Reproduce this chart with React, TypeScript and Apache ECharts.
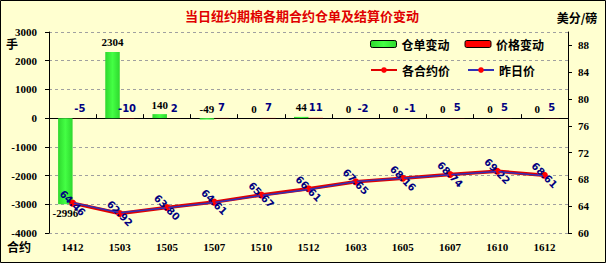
import React, { useEffect, useRef } from 'react';
import * as echarts from 'echarts';

const categories = ['1412', '1503', '1505', '1507', '1510', '1512', '1603', '1605', '1607', '1610', '1612'];
const warrantChange = [-2996, 2304, 140, -49, 0, 44, 0, 0, 0, 0, 0];
const priceChange = [-5, -10, 2, 7, 7, 11, -2, -1, 5, 5, 5];
const settlePrice = [64.46, 62.92, 63.8, 64.61, 65.67, 66.61, 67.65, 68.16, 68.74, 69.22, 68.61];
const prevPrice = [64.51, 63.02, 63.78, 64.54, 65.6, 66.5, 67.67, 68.17, 68.69, 69.17, 68.56];
const leftAxisRange = [-4000, 3000, 1000];
const rightAxisRange = [60, 90, 4];

const TITLE = '当日纽约期棉各期合约仓单及结算价变动';
const SERIF = '"Liberation Serif", "Times New Roman", serif';
const SANS = '"DejaVu Sans", Verdana, sans-serif';
const CJK = '"Noto Sans CJK SC", sans-serif';

function buildOption() {
  return {
    animation: false,
    backgroundColor: '#FFFFD0',
    grid: { left: 49, right: 38, top: 32, bottom: 30, containLabel: false },
    legend: [
      {
        left: 370,
        top: 38,
        padding: 0,
        itemWidth: 26,
        itemHeight: 7,
        itemGap: 15,
        data: ['仓单变动', '价格变动'],
        itemStyle: { borderColor: '#000', borderWidth: 1 },
        textStyle: { fontFamily: CJK, fontWeight: 'bold', fontSize: 12, color: '#000' },
      },
      {
        left: 370,
        top: 64,
        padding: 0,
        itemWidth: 26,
        itemHeight: 7,
        itemGap: 17,
        data: ['各合约价', '昨日价'],
        textStyle: { fontFamily: CJK, fontWeight: 'bold', fontSize: 12, color: '#000' },
      },
    ],
    xAxis: [
      {
        type: 'category',
        data: categories,
        position: 'bottom',
        axisLine: { show: false, onZero: false },
        axisTick: { show: false },
        splitLine: { show: false },
        axisLabel: { margin: 8, color: '#000', fontFamily: SERIF, fontWeight: 'bold', fontSize: 11, interval: 0 },
      },
      {
        type: 'category',
        data: categories,
        position: 'bottom',
        axisLine: { show: true, onZero: true, onZeroAxisIndex: 0, lineStyle: { color: '#000', width: 1 } },
        axisTick: { show: true, inside: true, length: 4, interval: 0, lineStyle: { color: '#000' } },
        axisLabel: { show: false },
        splitLine: { show: false },
      },
    ],
    yAxis: [
      {
        type: 'value',
        position: 'left',
        min: leftAxisRange[0],
        max: leftAxisRange[1],
        interval: leftAxisRange[2],
        axisLine: { show: true, onZero: false, lineStyle: { color: '#000' } },
        axisTick: { show: true, length: 4, lineStyle: { color: '#000' } },
        axisLabel: {
          margin: 12,
          color: '#000',
          fontFamily: SERIF,
          fontWeight: 'bold',
          fontSize: 11,
          formatter: (v: number) => String(v),
        },
        splitLine: { show: true, lineStyle: { color: '#A0A0A0', type: [3, 3], width: 1 } },
      },
      {
        type: 'value',
        position: 'right',
        min: rightAxisRange[0],
        max: rightAxisRange[1],
        interval: rightAxisRange[2],
        axisLine: { show: true, onZero: false, lineStyle: { color: '#000' } },
        axisTick: { show: true, length: 4, lineStyle: { color: '#000' } },
        axisLabel: {
          margin: 10,
          showMaxLabel: false,
          color: '#000',
          fontFamily: SERIF,
          fontWeight: 'bold',
          fontSize: 11,
          formatter: (v: number) => String(v),
        },
        splitLine: { show: false },
      },
    ],
    series: [
      {
        name: '仓单变动',
        type: 'bar',
        xAxisIndex: 0,
        yAxisIndex: 0,
        barWidth: 14.5,
        barGap: '0%',
        itemStyle: {
          color: new echarts.graphic.LinearGradient(0, 0, 1, 0, [
            { offset: 0, color: '#2ED82E' },
            { offset: 0.5, color: '#44FF44' },
            { offset: 1, color: '#2ED82E' },
          ]),
        },
        label: {
          show: true,
          position: 'top',
          distance: 4,
          color: '#000',
          fontFamily: SERIF,
          fontWeight: 'bold',
          fontSize: 11,
        },
        data: warrantChange.map((v) => (v < -1000 ? { value: v, label: { position: 'bottom', distance: 3 } } : v)),
      },
      {
        name: '价格变动',
        type: 'bar',
        xAxisIndex: 0,
        yAxisIndex: 0,
        barWidth: 14.5,
        barGap: '0%',
        itemStyle: { color: '#FF0000' },
        label: {
          show: true,
          position: 'top',
          distance: 5,
          color: '#000080',
          fontFamily: SANS,
          fontWeight: 'bold',
          fontSize: 10,
        },
        data: priceChange,
      },
      {
        name: '各合约价',
        type: 'line',
        xAxisIndex: 0,
        yAxisIndex: 1,
        symbol: 'circle',
        symbolSize: 7,
        itemStyle: { color: '#FF0000' },
        lineStyle: { color: '#E00000', width: 3.5 },
        label: {
          show: true,
          position: 'inside',
          rotate: -45,
          color: '#000080',
          fontFamily: SANS,
          fontWeight: 'bold',
          fontSize: 10,
          formatter: (p: any) => Number(p.value).toFixed(2),
        },
        data: settlePrice,
        z: 3,
      },
      {
        name: '昨日价',
        type: 'line',
        xAxisIndex: 0,
        yAxisIndex: 1,
        symbol: 'circle',
        symbolSize: 3,
        itemStyle: { color: '#FF0000' },
        lineStyle: { color: '#3030B8', width: 1.5 },
        data: prevPrice,
        z: 4,
      },
    ],
    graphic: [
      {
        type: 'text',
        x: 302,
        y: 15,
        style: { text: TITLE, fill: '#E00000', font: `bold 13px ${CJK}`, align: 'center', verticalAlign: 'middle' },
      },
      {
        type: 'text',
        x: 12,
        y: 43,
        style: { text: '手', fill: '#000', font: `bold 12px ${CJK}`, align: 'center', verticalAlign: 'middle' },
      },
      {
        type: 'text',
        x: 577,
        y: 17,
        style: { text: '美分/磅', fill: '#000', font: `bold 12px ${CJK}`, align: 'center', verticalAlign: 'middle' },
      },
      {
        type: 'text',
        x: 19,
        y: 246,
        style: { text: '合约', fill: '#000', font: `bold 12px ${CJK}`, align: 'center', verticalAlign: 'middle' },
      },
      {
        type: 'rect',
        silent: true,
        z: 100,
        shape: { x: 0.5, y: 0.5, width: 605, height: 262 },
        style: { fill: 'none', stroke: '#000', lineWidth: 1 },
      },
    ],
  };
}

export default function App() {
  const ref = useRef<HTMLDivElement>(null);
  useEffect(() => {
    document.body.style.margin = '0';
    const chart = echarts.init(ref.current as HTMLDivElement, null, { renderer: 'svg' });
    chart.setOption(buildOption() as any);
    return () => {
      chart.dispose();
    };
  }, []);
  return <div ref={ref} style={{ width: 606, height: 263 }} />;
}
